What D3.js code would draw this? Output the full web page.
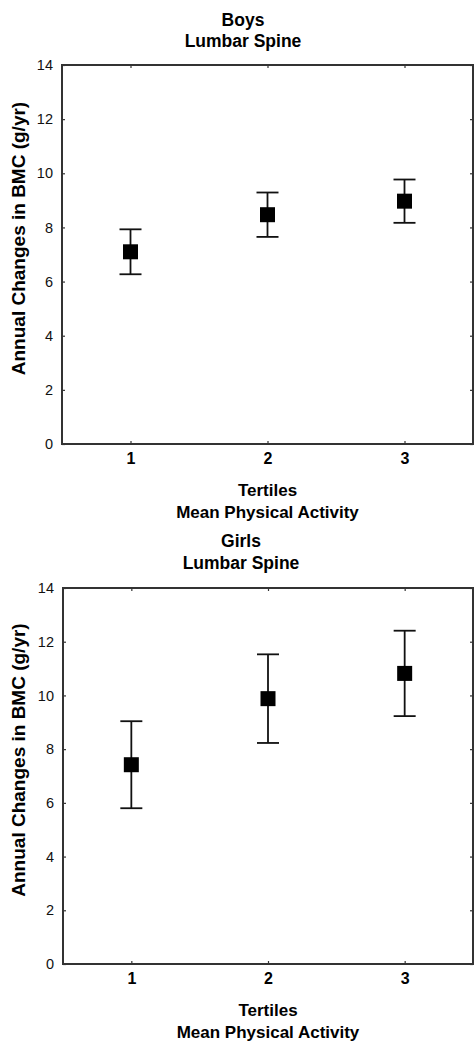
<!DOCTYPE html>
<html>
<head>
<meta charset="utf-8">
<script src="https://cdn.jsdelivr.net/npm/d3@7"></script>
<style>
  html, body { margin: 0; padding: 0; background: #fff; }
  svg { display: block; font-family: "Liberation Sans", Arial, sans-serif; }
</style>
</head>
<body>
<svg id="chart" width="474" height="1044"></svg>
<script>
// ---- data ----
const tertiles = [1, 2, 3];
const boysMean = [7.1, 8.47, 8.97];
const boysErr = [0.83, 0.82, 0.80];
const girlsMean = [7.42, 9.88, 10.82];
const girlsErr = [1.62, 1.65, 1.59];
const yTicks = [0, 2, 4, 6, 8, 10, 12, 14];
const xTicks = [1, 2, 3];
const panelTitles = [["Boys", "Lumbar Spine"], ["Girls", "Lumbar Spine"]];
const xTitle = ["Tertiles", "Mean Physical Activity"];
const yTitle = "Annual Changes in BMC (g/yr)";

const svg = d3.select("#chart");

const panels = [
  { title: panelTitles[0], mean: boysMean, err: boysErr,
    left: 62, right: 473, top: 65, bottom: 444, titleX: 243, titleY: [26, 47] },
  { title: panelTitles[1], mean: girlsMean, err: girlsErr,
    left: 63, right: 473, top: 588, bottom: 964, titleX: 241, titleY: [547, 569] }
];

const FONT = "Liberation Sans, Arial, sans-serif";

panels.forEach(p => {
  const x = d3.scaleLinear().domain([0.5, 3.5]).range([p.left, p.right]);
  const y = d3.scaleLinear().domain([0, 14]).range([p.bottom, p.top]);
  const g = svg.append("g");

  // titles
  p.title.forEach((t, i) => {
    g.append("text").attr("x", p.titleX).attr("y", p.titleY[i])
      .attr("text-anchor", "middle").attr("font-weight", "bold")
      .attr("font-size", 17.5).attr("fill", "#000").text(t);
  });

  // axes (inward ticks)
  const tickLen = 3;
  g.append("g").attr("transform", `translate(0,${p.bottom})`)
    .call(d3.axisBottom(x).tickValues(xTicks).tickSize(-tickLen).tickPadding(9).tickFormat(d3.format("d")))
    .call(a => a.select(".domain").remove())
    .call(a => a.selectAll("line").attr("stroke", "#333").attr("stroke-width", 1.2))
    .call(a => a.selectAll("text").style("font-size", "16px").style("font-weight", "bold")
      .attr("fill", "#000").style("font-family", FONT)
      .attr("dy", "0.71em"));
  g.append("g").attr("transform", `translate(0,${p.top})`)
    .call(d3.axisTop(x).tickValues(xTicks).tickSize(-tickLen).tickFormat(""))
    .call(a => a.select(".domain").remove())
    .call(a => a.selectAll("line").attr("stroke", "#333").attr("stroke-width", 1.2));
  g.append("g").attr("transform", `translate(${p.left},0)`)
    .call(d3.axisLeft(y).tickValues(yTicks).tickSize(-tickLen).tickPadding(9).tickFormat(d3.format("d")))
    .call(a => a.select(".domain").remove())
    .call(a => a.selectAll("line").attr("stroke", "#333").attr("stroke-width", 1.2))
    .call(a => a.selectAll("text").style("font-size", "14.5px")
      .attr("fill", "#111").style("font-family", FONT));
  g.append("g").attr("transform", `translate(${p.right},0)`)
    .call(d3.axisRight(y).tickValues(yTicks).tickSize(-tickLen).tickFormat(""))
    .call(a => a.select(".domain").remove())
    .call(a => a.selectAll("line").attr("stroke", "#333").attr("stroke-width", 1.2));

  // frame
  g.append("rect").attr("x", p.left).attr("y", p.top)
    .attr("width", p.right - p.left).attr("height", p.bottom - p.top)
    .attr("fill", "none").attr("stroke", "#333").attr("stroke-width", 2);

  // x title
  xTitle.forEach((t, i) => {
    g.append("text").attr("x", (p.left + p.right) / 2)
      .attr("y", p.bottom + (i === 0 ? 52 : 74))
      .attr("text-anchor", "middle").attr("font-weight", "bold")
      .attr("font-size", 17).attr("fill", "#000").text(t);
  });

  // y title
  g.append("text")
    .attr("transform", `translate(25,${(p.top + p.bottom) / 2 - 16}) rotate(-90)`)
    .attr("text-anchor", "middle").attr("font-weight", "bold")
    .attr("font-size", 19).attr("fill", "#000").text(yTitle);

  // error bars
  const cap = 11;
  const data = tertiles.map((t, i) => ({ t, m: p.mean[i], e: p.err[i] }));
  const eb = g.append("g").attr("stroke", "#111").attr("stroke-width", 1.8);
  data.forEach(d => {
    eb.append("line").attr("x1", x(d.t)).attr("x2", x(d.t))
      .attr("y1", y(d.m + d.e)).attr("y2", y(d.m - d.e));
    eb.append("line").attr("x1", x(d.t) - cap).attr("x2", x(d.t) + cap)
      .attr("y1", y(d.m + d.e)).attr("y2", y(d.m + d.e));
    eb.append("line").attr("x1", x(d.t) - cap).attr("x2", x(d.t) + cap)
      .attr("y1", y(d.m - d.e)).attr("y2", y(d.m - d.e));
  });

  // square markers
  const s = 15;
  g.selectAll("rect.pt").data(data).join("rect").attr("class", "pt")
    .attr("x", d => x(d.t) - s / 2).attr("y", d => y(d.m) - s / 2)
    .attr("width", s).attr("height", s).attr("fill", "#000");
});
</script>
</body>
</html>
